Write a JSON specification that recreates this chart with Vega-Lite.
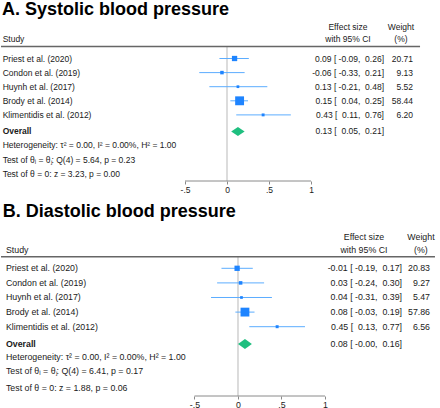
{
  "$schema": "https://vega.github.io/schema/vega-lite/v6.json",
  "padding": 0,
  "spacing": 17,
  "bounds": "flush",
  "background": "white",
  "config": {
    "view": {"stroke": null},
    "font": "Liberation Sans",
    "text": {"font": "Liberation Sans", "color": "#1a1a1a"}
  },
  "datasets": {
    "sbp": [
      {"row": 1, "study": "Priest et al. (2020)", "es": 0.09, "lo": -0.09, "hi": 0.26, "w": 20.71, "ci": "0.09 [\u00a0-0.09,\u00a0\u00a00.26]"},
      {"row": 2, "study": "Condon et al. (2019)", "es": -0.06, "lo": -0.33, "hi": 0.21, "w": 9.13, "ci": "-0.06 [\u00a0-0.33,\u00a0\u00a00.21]"},
      {"row": 3, "study": "Huynh et al. (2017)", "es": 0.13, "lo": -0.21, "hi": 0.48, "w": 5.52, "ci": "0.13 [\u00a0-0.21,\u00a0\u00a00.48]"},
      {"row": 4, "study": "Brody et al. (2014)", "es": 0.15, "lo": 0.04, "hi": 0.25, "w": 58.44, "ci": "0.15 [\u00a0\u00a00.04,\u00a0\u00a00.25]"},
      {"row": 5, "study": "Klimentidis et al. (2012)", "es": 0.43, "lo": 0.11, "hi": 0.76, "w": 6.20, "ci": "0.43 [\u00a0\u00a00.11,\u00a0\u00a00.76]"}
    ],
    "sbpOverall": [
      {"study": "Overall", "es": 0.13, "lo": 0.05, "hi": 0.21, "ci": "0.13 [\u00a0\u00a00.05,\u00a0\u00a00.21]"}
    ],
    "dbp": [
      {"row": 1, "study": "Priest et al. (2020)", "es": -0.01, "lo": -0.19, "hi": 0.17, "w": 20.83, "ci": "-0.01 [\u00a0-0.19,\u00a0\u00a00.17]"},
      {"row": 2, "study": "Condon et al. (2019)", "es": 0.03, "lo": -0.24, "hi": 0.30, "w": 9.27, "ci": "0.03 [\u00a0-0.24,\u00a0\u00a00.30]"},
      {"row": 3, "study": "Huynh et al. (2017)", "es": 0.04, "lo": -0.31, "hi": 0.39, "w": 5.47, "ci": "0.04 [\u00a0-0.31,\u00a0\u00a00.39]"},
      {"row": 4, "study": "Brody et al. (2014)", "es": 0.08, "lo": -0.03, "hi": 0.19, "w": 57.86, "ci": "0.08 [\u00a0-0.03,\u00a0\u00a00.19]"},
      {"row": 5, "study": "Klimentidis et al. (2012)", "es": 0.45, "lo": 0.13, "hi": 0.77, "w": 6.56, "ci": "0.45 [\u00a0\u00a00.13,\u00a0\u00a00.77]"}
    ],
    "dbpOverall": [
      {"study": "Overall", "es": 0.08, "lo": -0.00, "hi": 0.16, "ci": "0.08 [\u00a0-0.00,\u00a0\u00a00.16]"}
    ]
  },
  "vconcat": [
    {
      "width": 440,
      "height": 181,
      "layer": [
        {
          "data": {"values": [{}]},
          "mark": {"type": "rule", "stroke": "#d0d0d0", "strokeWidth": 1.5},
          "encoding": {
            "x": {"datum": 0, "type": "quantitative",
                  "scale": {"domain": [-2.70238, 2.53571], "nice": false, "zero": false},
                  "axis": {"orient": "bottom", "values": [-0.5, 0, 0.5, 1], "domain": false, "grid": false,
                           "ticks": true, "tickSize": 3, "tickColor": "#8a8a8a", "tickWidth": 1,
                           "labelAngle": 0, "labelAlign": "center", "labelBaseline": "top",
                           "labelFont": "Liberation Sans", "labelFontSize": 8.5, "labelColor": "#1a1a1a", "labelPadding": 1,
                           "labelFlush": false, "labelOverlap": false,
                           "labelExpr": "datum.value == -0.5 ? '-.5' : datum.value == 0.5 ? '.5' : datum.value == 0 ? '0' : '1'",
                           "title": null}},
            "y": {"datum": 0.149, "type": "quantitative",
                  "scale": {"domain": [-3.149, 9.688], "reverse": true, "nice": false, "zero": false}, "axis": null},
            "y2": {"datum": 9.688}
          }
        },
        {
          "data": {"values": [{}]},
          "mark": {"type": "rule", "stroke": "#8a8a8a", "strokeWidth": 1},
          "encoding": {
            "x": {"datum": -0.5, "type": "quantitative"},
            "x2": {"datum": 1},
            "y": {"datum": 9.688, "type": "quantitative", "axis": null}
          }
        },
        {
          "data": {"values": [{}]},
          "mark": {"type": "rule", "stroke": "#666666", "strokeWidth": 1.5},
          "encoding": {
            "x": {"datum": -2.6905, "type": "quantitative"},
            "x2": {"datum": 2.298},
            "y": {"datum": 0.149, "type": "quantitative", "axis": null}
          }
        },
        {
          "data": {"name": "sbp"},
          "mark": {"type": "rule", "stroke": "#5cadff", "strokeWidth": 1},
          "encoding": {
            "x": {"field": "lo", "type": "quantitative", "title": null},
            "x2": {"field": "hi"},
            "y": {"field": "row", "type": "quantitative", "axis": null}
          }
        },
        {
          "data": {"name": "sbp"},
          "mark": {"type": "point", "shape": "square", "filled": true, "opacity": 1, "color": "#1e84ff", "strokeWidth": 0},
          "encoding": {
            "x": {"field": "es", "type": "quantitative", "title": null},
            "y": {"field": "row", "type": "quantitative", "axis": null},
            "size": {"field": "w", "type": "quantitative", "scale": {"domain": [0, 100], "range": [0, 135]}, "legend": null}
          }
        },
        {
          "data": {"name": "sbpOverall"},
          "mark": {"type": "point", "shape": "M-1,0L0,-0.67L1,0L0,0.67Z", "filled": true, "opacity": 1, "color": "#1fbf7f", "strokeWidth": 0, "size": 180},
          "encoding": {
            "x": {"field": "es", "type": "quantitative", "title": null},
            "y": {"datum": 6.17, "type": "quantitative", "axis": null}
          }
        },
        {
          "data": {"values": [{}]},
          "mark": {"type": "text", "text": "A. Systolic blood pressure", "align": "left", "baseline": "alphabetic", "fontSize": 18, "fontWeight": "bold", "color": "#000000"},
          "encoding": {
            "x": {"datum": -2.679, "type": "quantitative"},
            "y": {"datum": -2.085, "type": "quantitative", "axis": null}
          }
        },
        {
          "data": {"values": [{}]},
          "mark": {"type": "text", "text": "Study", "align": "left", "baseline": "middle", "fontSize": 8.5},
          "encoding": {
            "x": {"datum": -2.671, "type": "quantitative"},
            "y": {"datum": -0.383, "type": "quantitative", "axis": null}
          }
        },
        {
          "data": {"values": [{}]},
          "mark": {"type": "text", "text": "Effect size", "align": "center", "baseline": "middle", "fontSize": 8.5},
          "encoding": {
            "x": {"datum": 1.44, "type": "quantitative"},
            "y": {"datum": -1.234, "type": "quantitative", "axis": null}
          }
        },
        {
          "data": {"values": [{}]},
          "mark": {"type": "text", "text": "with 95% CI", "align": "center", "baseline": "middle", "fontSize": 8.5},
          "encoding": {
            "x": {"datum": 1.44, "type": "quantitative"},
            "y": {"datum": -0.383, "type": "quantitative", "axis": null}
          }
        },
        {
          "data": {"values": [{}]},
          "mark": {"type": "text", "text": "Weight", "align": "center", "baseline": "middle", "fontSize": 8.5},
          "encoding": {
            "x": {"datum": 2.071, "type": "quantitative"},
            "y": {"datum": -1.234, "type": "quantitative", "axis": null}
          }
        },
        {
          "data": {"values": [{}]},
          "mark": {"type": "text", "text": "(%)", "align": "center", "baseline": "middle", "fontSize": 8.5},
          "encoding": {
            "x": {"datum": 2.071, "type": "quantitative"},
            "y": {"datum": -0.383, "type": "quantitative", "axis": null}
          }
        },
        {
          "data": {"name": "sbp"},
          "mark": {"type": "text", "align": "left", "baseline": "middle", "fontSize": 8.5},
          "encoding": {
            "x": {"datum": -2.671, "type": "quantitative"},
            "y": {"field": "row", "type": "quantitative", "axis": null},
            "text": {"field": "study"}
          }
        },
        {
          "data": {"name": "sbp"},
          "mark": {"type": "text", "align": "right", "baseline": "middle", "fontSize": 8.5},
          "encoding": {
            "x": {"datum": 1.869, "type": "quantitative"},
            "y": {"field": "row", "type": "quantitative", "axis": null},
            "text": {"field": "ci"}
          }
        },
        {
          "data": {"name": "sbp"},
          "mark": {"type": "text", "align": "right", "baseline": "middle", "fontSize": 8.5},
          "encoding": {
            "x": {"datum": 2.214, "type": "quantitative"},
            "y": {"field": "row", "type": "quantitative", "axis": null},
            "text": {"field": "w", "format": ".2f"}
          }
        },
        {
          "data": {"name": "sbpOverall"},
          "mark": {"type": "text", "align": "left", "baseline": "middle", "fontSize": 8.5, "fontWeight": "bold"},
          "encoding": {
            "x": {"datum": -2.671, "type": "quantitative"},
            "y": {"datum": 6.17, "type": "quantitative", "axis": null},
            "text": {"field": "study"}
          }
        },
        {
          "data": {"name": "sbpOverall"},
          "mark": {"type": "text", "align": "right", "baseline": "middle", "fontSize": 8.5},
          "encoding": {
            "x": {"datum": 1.869, "type": "quantitative"},
            "y": {"datum": 6.17, "type": "quantitative", "axis": null},
            "text": {"field": "ci"}
          }
        },
        {
          "data": {"values": [{}]},
          "mark": {"type": "text", "text": "Heterogeneity: \u03c4\u00b2 = 0.00, I\u00b2 = 0.00%, H\u00b2 = 1.00", "align": "left", "baseline": "middle", "fontSize": 8.5},
          "encoding": {
            "x": {"datum": -2.671, "type": "quantitative"},
            "y": {"datum": 7.135, "type": "quantitative", "axis": null}
          }
        },
        {
          "data": {"values": [{}]},
          "mark": {"type": "text", "text": "Test of \u03b8\u1d62 = \u03b8\u2c7c: Q(4) = 5.64, p = 0.23", "align": "left", "baseline": "middle", "fontSize": 8.5},
          "encoding": {
            "x": {"datum": -2.671, "type": "quantitative"},
            "y": {"datum": 8.199, "type": "quantitative", "axis": null}
          }
        },
        {
          "data": {"values": [{}]},
          "mark": {"type": "text", "text": "Test of \u03b8 = 0: z = 3.23, p = 0.00", "align": "left", "baseline": "middle", "fontSize": 8.5},
          "encoding": {
            "x": {"datum": -2.671, "type": "quantitative"},
            "y": {"datum": 9.191, "type": "quantitative", "axis": null}
          }
        }
      ]
    },
    {
      "width": 440,
      "height": 198,
      "layer": [
        {
          "data": {"values": [{}]},
          "mark": {"type": "rule", "stroke": "#d0d0d0", "strokeWidth": 1.5},
          "encoding": {
            "x": {"datum": 0, "type": "quantitative",
                  "scale": {"domain": [-2.73563, 2.32184], "nice": false, "zero": false},
                  "axis": {"orient": "bottom", "values": [-0.5, 0, 0.5, 1], "domain": false, "grid": false,
                           "ticks": true, "tickSize": 3, "tickColor": "#8a8a8a", "tickWidth": 1,
                           "labelAngle": 0, "labelAlign": "center", "labelBaseline": "top",
                           "labelFont": "Liberation Sans", "labelFontSize": 8.8, "labelColor": "#1a1a1a", "labelPadding": 1,
                           "labelFlush": false, "labelOverlap": false,
                           "labelExpr": "datum.value == -0.5 ? '-.5' : datum.value == 0.5 ? '.5' : datum.value == 0 ? '0' : '1'",
                           "title": null}},
            "y": {"datum": 0.205, "type": "quantitative",
                  "scale": {"domain": [-3.815, 9.747], "reverse": true, "nice": false, "zero": false}, "axis": null},
            "y2": {"datum": 9.747}
          }
        },
        {
          "data": {"values": [{}]},
          "mark": {"type": "rule", "stroke": "#8a8a8a", "strokeWidth": 1},
          "encoding": {
            "x": {"datum": -0.5, "type": "quantitative"},
            "x2": {"datum": 1},
            "y": {"datum": 9.747, "type": "quantitative", "axis": null}
          }
        },
        {
          "data": {"values": [{}]},
          "mark": {"type": "rule", "stroke": "#666666", "strokeWidth": 1.5},
          "encoding": {
            "x": {"datum": -2.724, "type": "quantitative"},
            "x2": {"datum": 2.264},
            "y": {"datum": 0.205, "type": "quantitative", "axis": null}
          }
        },
        {
          "data": {"name": "dbp"},
          "mark": {"type": "rule", "stroke": "#5cadff", "strokeWidth": 1},
          "encoding": {
            "x": {"field": "lo", "type": "quantitative", "title": null},
            "x2": {"field": "hi"},
            "y": {"field": "row", "type": "quantitative", "axis": null}
          }
        },
        {
          "data": {"name": "dbp"},
          "mark": {"type": "point", "shape": "square", "filled": true, "opacity": 1, "color": "#1e84ff", "strokeWidth": 0},
          "encoding": {
            "x": {"field": "es", "type": "quantitative", "title": null},
            "y": {"field": "row", "type": "quantitative", "axis": null},
            "size": {"field": "w", "type": "quantitative", "scale": {"domain": [0, 100], "range": [0, 170]}, "legend": null}
          }
        },
        {
          "data": {"name": "dbpOverall"},
          "mark": {"type": "point", "shape": "M-1,0L0,-0.72L1,0L0,0.72Z", "filled": true, "opacity": 1, "color": "#1fbf7f", "strokeWidth": 0, "size": 193},
          "encoding": {
            "x": {"field": "es", "type": "quantitative", "title": null},
            "y": {"datum": 6.185, "type": "quantitative", "axis": null}
          }
        },
        {
          "data": {"values": [{}]},
          "mark": {"type": "text", "text": "B. Diastolic blood pressure", "align": "left", "baseline": "alphabetic", "fontSize": 18, "fontWeight": "bold", "color": "#000000"},
          "encoding": {
            "x": {"datum": -2.7046, "type": "quantitative"},
            "y": {"datum": -2.534, "type": "quantitative", "axis": null}
          }
        },
        {
          "data": {"values": [{}]},
          "mark": {"type": "text", "text": "Study", "align": "left", "baseline": "middle", "fontSize": 8.8},
          "encoding": {
            "x": {"datum": -2.667, "type": "quantitative"},
            "y": {"datum": -0.253, "type": "quantitative", "axis": null}
          }
        },
        {
          "data": {"values": [{}]},
          "mark": {"type": "text", "text": "Effect size", "align": "center", "baseline": "middle", "fontSize": 8.8},
          "encoding": {
            "x": {"datum": 1.448, "type": "quantitative"},
            "y": {"datum": -1.164, "type": "quantitative", "axis": null}
          }
        },
        {
          "data": {"values": [{}]},
          "mark": {"type": "text", "text": "with 95% CI", "align": "center", "baseline": "middle", "fontSize": 8.8},
          "encoding": {
            "x": {"datum": 1.448, "type": "quantitative"},
            "y": {"datum": -0.253, "type": "quantitative", "axis": null}
          }
        },
        {
          "data": {"values": [{}]},
          "mark": {"type": "text", "text": "Weight", "align": "center", "baseline": "middle", "fontSize": 8.8},
          "encoding": {
            "x": {"datum": 2.103, "type": "quantitative"},
            "y": {"datum": -1.164, "type": "quantitative", "axis": null}
          }
        },
        {
          "data": {"values": [{}]},
          "mark": {"type": "text", "text": "(%)", "align": "center", "baseline": "middle", "fontSize": 8.8},
          "encoding": {
            "x": {"datum": 2.103, "type": "quantitative"},
            "y": {"datum": -0.253, "type": "quantitative", "axis": null}
          }
        },
        {
          "data": {"name": "dbp"},
          "mark": {"type": "text", "align": "left", "baseline": "middle", "fontSize": 8.8},
          "encoding": {
            "x": {"datum": -2.667, "type": "quantitative"},
            "y": {"field": "row", "type": "quantitative", "axis": null},
            "text": {"field": "study"}
          }
        },
        {
          "data": {"name": "dbp"},
          "mark": {"type": "text", "align": "right", "baseline": "middle", "fontSize": 8.8},
          "encoding": {
            "x": {"datum": 1.885, "type": "quantitative"},
            "y": {"field": "row", "type": "quantitative", "axis": null},
            "text": {"field": "ci"}
          }
        },
        {
          "data": {"name": "dbp"},
          "mark": {"type": "text", "align": "right", "baseline": "middle", "fontSize": 8.8},
          "encoding": {
            "x": {"datum": 2.207, "type": "quantitative"},
            "y": {"field": "row", "type": "quantitative", "axis": null},
            "text": {"field": "w", "format": ".2f"}
          }
        },
        {
          "data": {"name": "dbpOverall"},
          "mark": {"type": "text", "align": "left", "baseline": "middle", "fontSize": 8.8, "fontWeight": "bold"},
          "encoding": {
            "x": {"datum": -2.667, "type": "quantitative"},
            "y": {"datum": 6.185, "type": "quantitative", "axis": null},
            "text": {"field": "study"}
          }
        },
        {
          "data": {"name": "dbpOverall"},
          "mark": {"type": "text", "align": "right", "baseline": "middle", "fontSize": 8.8},
          "encoding": {
            "x": {"datum": 1.885, "type": "quantitative"},
            "y": {"datum": 6.185, "type": "quantitative", "axis": null},
            "text": {"field": "ci"}
          }
        },
        {
          "data": {"values": [{}]},
          "mark": {"type": "text", "text": "Heterogeneity: \u03c4\u00b2 = 0.00, I\u00b2 = 0.00%, H\u00b2 = 1.00", "align": "left", "baseline": "middle", "fontSize": 8.8},
          "encoding": {
            "x": {"datum": -2.667, "type": "quantitative"},
            "y": {"datum": 7.1, "type": "quantitative", "axis": null}
          }
        },
        {
          "data": {"values": [{}]},
          "mark": {"type": "text", "text": "Test of \u03b8\u1d62 = \u03b8\u2c7c: Q(4) = 6.41, p = 0.17", "align": "left", "baseline": "middle", "fontSize": 8.8},
          "encoding": {
            "x": {"datum": -2.667, "type": "quantitative"},
            "y": {"datum": 8.034, "type": "quantitative", "axis": null}
          }
        },
        {
          "data": {"values": [{}]},
          "mark": {"type": "text", "text": "Test of \u03b8 = 0: z = 1.88, p = 0.06", "align": "left", "baseline": "middle", "fontSize": 8.8},
          "encoding": {
            "x": {"datum": -2.667, "type": "quantitative"},
            "y": {"datum": 9.175, "type": "quantitative", "axis": null}
          }
        }
      ]
    }
  ]
}
